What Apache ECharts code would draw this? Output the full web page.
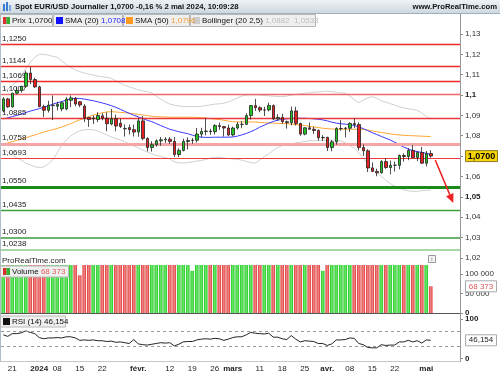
<!DOCTYPE html>
<html><head><meta charset="utf-8">
<script src="https://cdn.jsdelivr.net/npm/echarts@6/dist/echarts.min.js"></script>
<style>html,body{margin:0;padding:0;background:#fff}#c{width:500px;height:375px}</style>
</head><body><div id="c"></div>
<script>
// ---------- DATA ----------
const holidays = ['2023-12-25','2024-01-01'];
const dates = (function(){const out=[];let t=Date.UTC(2023,11,19);const end=Date.UTC(2024,4,2);
  while(t<=end){const d=new Date(t);const wd=d.getUTCDay();const s=d.toISOString().slice(0,10);
    if(wd>0&&wd<6&&holidays.indexOf(s)<0)out.push(s);t+=86400000;}return out;})();
const tickLabels = {'2023-12-21':'21','2024-01-02':'2024','2024-01-08':'08','2024-01-15':'15','2024-01-22':'22',
  '2024-02-01':'févr.','2024-02-12':'12','2024-02-19':'19','2024-02-26':'26','2024-03-01':'mars',
  '2024-03-11':'11','2024-03-18':'18','2024-03-25':'25','2024-04-01':'avr.','2024-04-08':'08',
  '2024-04-15':'15','2024-04-22':'22','2024-05-01':'mai'};
const boldTicks = ['2024','févr.','mars','avr.','mai'];

const open  = [1.0923,1.0981,1.0942,1.1009,1.1022,1.1043,1.1108,1.1076,1.1040,1.0943,1.0925,1.0948,1.0945,1.0932,1.0932,1.0974,1.0984,1.0967,1.0946,1.0890,1.0883,1.0880,1.0898,1.0886,1.0858,1.0884,1.0862,1.0836,1.0840,1.0830,1.0818,1.0873,1.0787,1.0742,1.0756,1.0775,1.0780,1.0783,1.0772,1.0708,1.0728,1.0772,1.0777,1.0778,1.0808,1.0821,1.0823,1.0820,1.0850,1.0845,1.0838,1.0804,1.0838,1.0856,1.0856,1.0899,1.0948,1.0938,1.0926,1.0927,1.0948,1.0883,1.0890,1.0869,1.0864,1.0922,1.0860,1.0808,1.0839,1.0832,1.0826,1.0790,1.0792,1.0742,1.0770,1.0835,1.0836,1.0837,1.0860,1.0855,1.0742,1.0726,1.0642,1.0625,1.0618,1.0673,1.0644,1.0655,1.0655,1.0703,1.0698,1.0728,1.0693,1.0718,1.0665,1.0713];
const high  = [1.0990,1.0986,1.1011,1.1040,1.1045,1.1120,1.1139,1.1085,1.1046,1.0953,1.0972,1.0998,1.0967,1.0968,1.0990,1.0998,1.0990,1.0970,1.0955,1.0892,1.0900,1.0916,1.0911,1.0915,1.0932,1.0904,1.0884,1.0856,1.0855,1.0855,1.0889,1.0897,1.0792,1.0773,1.0782,1.0794,1.0793,1.0793,1.0794,1.0738,1.0786,1.0792,1.0789,1.0838,1.0839,1.0888,1.0834,1.0857,1.0865,1.0848,1.0855,1.0845,1.0868,1.0872,1.0911,1.0951,1.0981,1.0945,1.0942,1.0963,1.0954,1.0906,1.0908,1.0875,1.0943,1.0942,1.0865,1.0842,1.0865,1.0845,1.0831,1.0803,1.0795,1.0779,1.0842,1.0877,1.0843,1.0867,1.0885,1.0866,1.0757,1.0734,1.0669,1.0638,1.0680,1.0690,1.0678,1.0673,1.0708,1.0714,1.0739,1.0754,1.0724,1.0745,1.0725,1.0729];
const low   = [1.0915,1.0937,1.0938,1.1003,1.1012,1.1035,1.1054,1.1035,1.0940,1.0892,1.0914,1.0877,1.0924,1.0920,1.0925,1.0940,1.0945,1.0940,1.0867,1.0844,1.0858,1.0867,1.0876,1.0822,1.0851,1.0822,1.0838,1.0796,1.0806,1.0796,1.0795,1.0778,1.0723,1.0722,1.0747,1.0751,1.0765,1.0760,1.0696,1.0695,1.0723,1.0733,1.0761,1.0767,1.0792,1.0802,1.0805,1.0806,1.0829,1.0796,1.0798,1.0797,1.0830,1.0837,1.0852,1.0880,1.0922,1.0915,1.0897,1.0920,1.0877,1.0873,1.0859,1.0835,1.0851,1.0850,1.0800,1.0802,1.0833,1.0809,1.0776,1.0774,1.0725,1.0724,1.0756,1.0825,1.0792,1.0819,1.0838,1.0728,1.0701,1.0622,1.0622,1.0601,1.0614,1.0637,1.0610,1.0624,1.0635,1.0673,1.0680,1.0690,1.0675,1.0666,1.0649,1.0692];
const close = [1.0981,1.0942,1.1009,1.1022,1.1043,1.1108,1.1076,1.1040,1.0943,1.0925,1.0950,1.0950,1.0955,1.0962,1.0980,1.0986,1.0956,1.0951,1.0886,1.0880,1.0887,1.0899,1.0886,1.0859,1.0883,1.0848,1.0845,1.0834,1.0830,1.0818,1.0873,1.0787,1.0742,1.0756,1.0775,1.0780,1.0783,1.0772,1.0708,1.0728,1.0772,1.0777,1.0778,1.0808,1.0821,1.0823,1.0820,1.0850,1.0845,1.0838,1.0804,1.0838,1.0856,1.0856,1.0899,1.0948,1.0938,1.0926,1.0927,1.0948,1.0883,1.0890,1.0869,1.0864,1.0922,1.0860,1.0808,1.0839,1.0832,1.0826,1.0790,1.0792,1.0742,1.0770,1.0835,1.0836,1.0837,1.0860,1.0855,1.0742,1.0726,1.0642,1.0625,1.0618,1.0673,1.0644,1.0655,1.0655,1.0703,1.0698,1.0728,1.0693,1.0718,1.0665,1.0713,1.0700];
const sma20 = [1.0883,1.0888,1.0894,1.0900,1.0906,1.0914,1.0921,1.0927,1.0933,1.0940,1.0947,1.0955,1.0962,1.0968,1.0975,1.0980,1.0984,1.0983,1.0980,1.0976,1.0972,1.0967,1.0961,1.0955,1.0948,1.0940,1.0930,1.0920,1.0910,1.0901,1.0893,1.0884,1.0876,1.0869,1.0860,1.0850,1.0841,1.0832,1.0826,1.0820,1.0815,1.0810,1.0803,1.0797,1.0793,1.0792,1.0792,1.0793,1.0793,1.0793,1.0793,1.0794,1.0798,1.0804,1.0811,1.0820,1.0830,1.0842,1.0852,1.0862,1.0870,1.0877,1.0880,1.0883,1.0885,1.0886,1.0886,1.0886,1.0885,1.0883,1.0881,1.0878,1.0873,1.0867,1.0862,1.0859,1.0857,1.0855,1.0850,1.0843,1.0835,1.0825,1.0815,1.0806,1.0797,1.0788,1.0779,1.0768,1.0757,1.0744,1.0735,1.0727,1.0722,1.0718,1.0714,1.0708];
const sma50 = [1.0760,1.0765,1.0771,1.0777,1.0783,1.0790,1.0797,1.0804,1.0811,1.0818,1.0824,1.0830,1.0836,1.0843,1.0851,1.0860,1.0869,1.0878,1.0886,1.0894,1.0901,1.0907,1.0913,1.0917,1.0918,1.0917,1.0915,1.0913,1.0911,1.0908,1.0905,1.0902,1.0899,1.0896,1.0894,1.0893,1.0892,1.0891,1.0891,1.0891,1.0891,1.0891,1.0891,1.0890,1.0889,1.0887,1.0884,1.0882,1.0880,1.0876,1.0872,1.0869,1.0868,1.0868,1.0868,1.0868,1.0867,1.0866,1.0864,1.0863,1.0862,1.0861,1.0860,1.0859,1.0857,1.0855,1.0853,1.0850,1.0847,1.0843,1.0840,1.0837,1.0835,1.0833,1.0832,1.0832,1.0832,1.0832,1.0832,1.0832,1.0831,1.0828,1.0824,1.0820,1.0816,1.0813,1.0809,1.0806,1.0804,1.0802,1.0801,1.0800,1.0799,1.0798,1.0797,1.0796];
const bbUpper = [1.1020,1.1030,1.1045,1.1070,1.1095,1.1130,1.1160,1.1185,1.1200,1.1200,1.1196,1.1190,1.1185,1.1168,1.1150,1.1135,1.1123,1.1115,1.1108,1.1103,1.1098,1.1093,1.1090,1.1087,1.1082,1.1070,1.1058,1.1048,1.1040,1.1033,1.1025,1.1020,1.1017,1.1010,1.0995,1.0980,1.0966,1.0956,1.0950,1.0946,1.0944,1.0943,1.0943,1.0943,1.0945,1.0948,1.0952,1.0955,1.0957,1.0960,1.0966,1.0975,1.0985,1.0995,1.1000,1.1001,1.1001,1.1000,1.0998,1.0996,1.0994,1.0993,1.0992,1.0995,1.0999,1.1003,1.1006,1.1009,1.1011,1.1013,1.1015,1.1017,1.1019,1.1017,1.1013,1.1010,1.1009,1.0995,1.0978,1.0962,1.0975,1.0986,1.0992,1.0985,1.0972,1.0965,1.0958,1.0950,1.0942,1.0937,1.0933,1.0929,1.0925,1.0912,1.0895,1.0882];
const bbLower = [1.0740,1.0720,1.0706,1.0691,1.0681,1.0666,1.0657,1.0648,1.0644,1.0647,1.0662,1.0681,1.0716,1.0755,1.0779,1.0799,1.0814,1.0824,1.0829,1.0831,1.0829,1.0824,1.0814,1.0804,1.0794,1.0787,1.0779,1.0770,1.0760,1.0750,1.0740,1.0730,1.0720,1.0711,1.0703,1.0698,1.0693,1.0686,1.0672,1.0667,1.0666,1.0668,1.0672,1.0676,1.0678,1.0684,1.0690,1.0694,1.0694,1.0691,1.0688,1.0686,1.0684,1.0680,1.0674,1.0668,1.0666,1.0680,1.0698,1.0711,1.0728,1.0742,1.0752,1.0755,1.0760,1.0765,1.0768,1.0772,1.0775,1.0776,1.0777,1.0778,1.0778,1.0779,1.0779,1.0775,1.0765,1.0752,1.0740,1.0715,1.0690,1.0660,1.0635,1.0620,1.0600,1.0582,1.0565,1.0552,1.0542,1.0535,1.0530,1.0527,1.0527,1.0530,1.0532,1.0533];
const volume = [130000,130000,130000,130000,130000,130000,130000,130000,130000,130000,130000,130000,130000,130000,130000,130000,130000,97000,130000,130000,130000,130000,130000,130000,130000,130000,130000,130000,130000,130000,130000,130000,130000,130000,130000,130000,130000,130000,130000,130000,130000,130000,108000,130000,130000,130000,130000,130000,130000,130000,130000,130000,130000,130000,130000,130000,130000,130000,130000,130000,130000,130000,130000,130000,130000,130000,130000,130000,130000,130000,130000,108000,130000,130000,130000,130000,130000,130000,130000,130000,130000,130000,130000,130000,130000,130000,130000,130000,130000,130000,130000,130000,130000,130000,130000,68373];
const rsi = [60,56,63,63,65,70,66,63,53,50,52,52,53,52,55,55,52,46,47,46,47,45,45,43,44,41,42,40,38,48,37,35,34,36,38,40,39,40,32,36,42,43,43,47,49,50,49,51,50,46,49,53,55,55,60,66,64,63,62,64,54,54,50,48,58,49,42,45,44,43,38,38,33,37,47,47,48,52,51,38,35,28,27,27,35,33,34,34,42,42,46,42,45,39,47,46.154];
const resistLevels = [1.1250,1.1144,1.1069,1.1007,1.0885,1.0758,1.0693];
const supportLevels = [1.0550,1.0435,1.0300,1.0238];
const rsiBands = [70,30];
const lastPrice = 1.0700, lastVolume = 68373, lastRsi = 46.154;
const arrowFrom = {idx: 96, price: 1.0681}, arrowTo = {idx: 100, price: 1.0470};

// ---------- STYLES ----------
const FONT = 'Liberation Sans, Arial, sans-serif';
const resistStyles = [
  {c:'#ee2a2a',w:1.5},{c:'#ee2a2a',w:1.5},{c:'#ee2a2a',w:1.5},{c:'#f06a6a',w:1.5},
  {c:'#e83a3a',w:1.5},{c:'#f5a5a5',w:3},{c:'#ee3a3a',w:1.2}];
const supportStyles = [{c:'#1a8a1a',w:3},{c:'#3a9e3a',w:1.5},{c:'#6cb36c',w:2},{c:'#a6d8a6',w:2}];

const fmtP = v => v.toFixed(4).replace('.', ',');
const PAD = 6;
const cats = dates.concat(Array.from({length:PAD},(_,i)=>'pad'+i));

const candle = dates.map((d,i)=>[open[i],close[i],low[i],high[i]]);
const volData = dates.map((d,i)=>{
  const up = close[i] >= open[i];
  return {value: volume[i], itemStyle:{color: new echarts.graphic.LinearGradient(0,0,1,0,
    up ? [{offset:0,color:'#22c422'},{offset:0.5,color:'#6cea6c'},{offset:1,color:'#22c422'}]
       : [{offset:0,color:'#e03636'},{offset:0.5,color:'#f08a8a'},{offset:1,color:'#e03636'}])}};
});

const chart = echarts.init(document.getElementById('c'), null, {renderer:'canvas'});
const gLeft = 1, gWidth = 459;
const option = {
  animation:false,
  textStyle:{fontFamily:FONT},
  grid:[
    {left:gLeft, width:gWidth, top:13.6, height:244.3},
    {left:gLeft, width:gWidth, top:265, height:48},
    {left:gLeft, width:gWidth, top:319, height:39.5}
  ],
  xAxis:[
    {type:'category', gridIndex:0, data:cats, show:false, boundaryGap:true},
    {type:'category', gridIndex:1, data:cats, boundaryGap:true, axisLine:{show:true,lineStyle:{color:'#555'}}, axisTick:{show:false}, axisLabel:{show:false}},
    {type:'category', gridIndex:2, data:cats, boundaryGap:true, axisLine:{show:false}, axisTick:{show:false},
      axisLabel:{interval:(i,v)=>!!tickLabels[v], margin:6, fontSize:8, color:'#222', fontFamily:FONT,
        formatter:v=>{const t=tickLabels[v]||'';return boldTicks.indexOf(t)>=0?'{b|'+t+'}':t;},
        rich:{b:{fontWeight:'bold',fontSize:8,color:'#222',fontFamily:FONT}}}}
  ],
  yAxis:[
    {type:'value', gridIndex:0, position:'right', min:1.02, max:1.14, interval:0.01,
      splitLine:{show:false}, axisLine:{show:true,lineStyle:{color:'#9a9a9a'}}, axisTick:{show:true,length:3,lineStyle:{color:'#888'}},
      axisLabel:{margin:5, fontSize:8, color:'#333', fontFamily:FONT, showMaxLabel:false,
        formatter:v=>{const s=String(+v.toFixed(2)).replace('.',',');return (Math.abs(v-1.1)<1e-6||Math.abs(v-1.05)<1e-6)?'{b|'+s+'}':s;},
        rich:{b:{fontWeight:'bold',fontSize:8,color:'#222',fontFamily:FONT}}}},
    {type:'value', gridIndex:1, position:'right', min:0, max:123000, interval:50000,
      splitLine:{show:false}, axisLine:{show:true,lineStyle:{color:'#9a9a9a'}}, axisTick:{show:true,length:3,lineStyle:{color:'#888'}},
      axisLabel:{margin:5, fontSize:8, color:'#333', fontFamily:FONT, showMaxLabel:false,
        formatter:v=>v===0?'{b|0}':String(v).replace(/\B(?=(\d{3})+(?!\d))/g,' '),
        rich:{b:{fontWeight:'bold',fontSize:8,color:'#222',fontFamily:FONT}}}},
    {type:'value', gridIndex:2, position:'right', min:0, max:100, interval:100,
      splitLine:{show:false}, axisLine:{show:true,lineStyle:{color:'#9a9a9a'}}, axisTick:{show:true,length:3,lineStyle:{color:'#888'}},
      axisLabel:{margin:5, fontSize:8, color:'#222', fontWeight:'bold', fontFamily:FONT}}
  ],
  series:[
    {type:'line', name:'BBU', xAxisIndex:0, yAxisIndex:0, data:bbUpper, symbol:'none', lineStyle:{color:'#cfcfcf',width:1}, z:1},
    {type:'line', name:'BBL', xAxisIndex:0, yAxisIndex:0, data:bbLower, symbol:'none', lineStyle:{color:'#cfcfcf',width:1}, z:1},
    {type:'line', name:'SMA50', xAxisIndex:0, yAxisIndex:0, data:sma50, symbol:'none', lineStyle:{color:'#ffa733',width:1}, z:2},
    {type:'line', name:'SMA20', xAxisIndex:0, yAxisIndex:0, data:sma20, symbol:'none', lineStyle:{color:'#3a3aff',width:1}, z:2},
    {type:'candlestick', name:'Prix', xAxisIndex:0, yAxisIndex:0, data:candle, barWidth:3, z:5,
      itemStyle:{color:'#22c322', color0:'#e62020', borderColor:'#222', borderColor0:'#222', borderWidth:0.8}},
    {type:'bar', name:'Volume', xAxisIndex:1, yAxisIndex:1, data:volData, barWidth:3.6, clip:true},
    {type:'line', name:'RSI', xAxisIndex:2, yAxisIndex:2, data:rsi, symbol:'none', lineStyle:{color:'#222',width:1},
      markLine:{silent:true, symbol:['none','none'], label:{show:false},
        lineStyle:{color:'#999',type:[3,3],width:1}, data:rsiBands.map(v=>({yAxis:v}))}}
  ]
};
chart.setOption(option);

// ---------- annotations positioned through the axes ----------
const yP = chart.convertToPixel({yAxisIndex:0}, lastPrice);
const yV = chart.convertToPixel({yAxisIndex:1}, lastVolume);
const yR = chart.convertToPixel({yAxisIndex:2}, lastRsi);
const a0 = chart.convertToPixel({xAxisIndex:0, yAxisIndex:0}, [arrowFrom.idx, arrowFrom.price]);
const a1 = chart.convertToPixel({xAxisIndex:0, yAxisIndex:0}, [arrowTo.idx, arrowTo.price]);
const dx=a1[0]-a0[0], dy=a1[1]-a0[1], L=Math.hypot(dx,dy), ux=dx/L, uy=dy/L;
const hl=9, hw=4;
const base=[a1[0]-ux*hl, a1[1]-uy*hl];
const axisX = gLeft + gWidth;

function box(x,y,w,h,fill,stroke,lw){return {type:'rect',shape:{x,y,width:w,height:h},style:{fill,stroke,lineWidth:lw||1},z:100};}
function txt(x,y,t,opt){return Object.assign({type:'text',x,y,z:101,style:Object.assign({text:t,fontFamily:FONT,fontSize:8,fill:'#111',textVerticalAlign:'middle'},opt||{})});}

// horizontal levels, placed through the price axis
const levelGraphics = [];
function addLevel(v, st){
  const y = Math.round(chart.convertToPixel({yAxisIndex:0}, v)) + (st.w%2 ? 0.5 : 0);
  levelGraphics.push({type:'line', shape:{x1:gLeft, y1:y, x2:axisX, y2:y}, style:{stroke:st.c, lineWidth:st.w}, z:3});
  levelGraphics.push({type:'text', x:2, y:y - st.w/2 - 1, z:4, style:{text:fmtP(v), fontFamily:FONT, fontSize:8, fill:'#222', textVerticalAlign:'bottom'}});
}
resistLevels.forEach((v,i)=>addLevel(v, resistStyles[i]));
supportLevels.forEach((v,i)=>addLevel(v, supportStyles[i]));

const legendY = 14.5, legendH = 12;
const graphics = levelGraphics.concat([
  {type:'rect',shape:{x:0,y:0,width:500,height:13},style:{fill:new echarts.graphic.LinearGradient(0,0,0,1,[{offset:0,color:'#eef2f5'},{offset:1,color:'#cfd8e0'}])},z:90},
  {type:'line',shape:{x1:0,y1:13.5,x2:500,y2:13.5},style:{stroke:'#9fb0bf',lineWidth:1},z:91},
  box(3,4,2,7,'#3b7bd0','none',0), box(6,2,2,9,'#3b7bd0','none',0), box(9,5,2,6,'#7aa8e0','none',0),
  txt(15,7,'Spot EUR/USD Journalier 1,0700 -0,16 % 2 mai 2024, 10:09:28',{fontWeight:'bold',fontSize:7.7}),
  txt(497,7,'www.ProRealTime.com',{fontWeight:'bold',fontSize:7.7,textAlign:'right'}),
  box(0.5,legendY,52,legendH,'#efefef','#b8b8b8'),
  box(3,legendY+2.5,3.5,7,'#d83030','none',0), box(6.5,legendY+2.5,3.5,7,'#30b030','none',0),
  txt(12,legendY+6.5,'Prix 1,0700'),
  box(53.5,legendY,69,legendH,'#efefef','#b8b8b8'),
  box(56,legendY+2.5,7,7,'#1010ff','none',0),
  {type:'text',x:65,y:legendY+6.5,z:101,style:{text:'SMA (20) {b|1,0708}',fontFamily:FONT,fontSize:8,fill:'#111',textVerticalAlign:'middle',rich:{b:{fill:'#2a2aff',fontSize:8,fontFamily:FONT}}}},
  box(123.5,legendY,66,legendH,'#efefef','#b8b8b8'),
  box(126,legendY+2.5,7,7,'#ff9a20','none',0),
  {type:'text',x:135,y:legendY+6.5,z:101,style:{text:'SMA (50) {o|1,0796}',fontFamily:FONT,fontSize:8,fill:'#111',textVerticalAlign:'middle',rich:{o:{fill:'#f09a30',fontSize:8,fontFamily:FONT}}}},
  box(190.5,legendY,125,legendH,'#efefef','#b8b8b8'),
  box(193,legendY+2.5,7,7,'#cccccc','none',0),
  {type:'text',x:202,y:legendY+6.5,z:101,style:{text:'Bollinger (20 2,5) {g|1,0882  1,0533}',fontFamily:FONT,fontSize:8,fill:'#111',textVerticalAlign:'middle',rich:{g:{fill:'#bdbdbd',fontSize:8,fontFamily:FONT}}}},
  {type:'line',shape:{x1:0.5,y1:13,x2:0.5,y2:362},style:{stroke:'#b0bcc6',lineWidth:1},z:50},
  {type:'line',shape:{x1:0,y1:361.5,x2:axisX,y2:361.5},style:{stroke:'#c8c8c8',lineWidth:1},z:50},
  {type:'line',shape:{x1:axisX+0.5,y1:13,x2:axisX+0.5,y2:362},style:{stroke:'#9a9a9a',lineWidth:1},z:50},
  txt(2,261,'ProRealTime.com',{fontSize:8,fill:'#222'}),
  box(428.5,255.5,7,7,'#f4f4f4','#999'),
  txt(432,259,'i',{fontSize:6,fill:'#666',textAlign:'center'}),
  box(0.5,266,68,11,'#efefef','#b8b8b8'),
  box(3,268,3.5,7,'#d83030','none',0), box(6.5,268,3.5,7,'#30b030','none',0),
  {type:'text',x:12,y:271.5,z:101,style:{text:'Volume {r|68 373}',fontFamily:FONT,fontSize:8,fill:'#111',textVerticalAlign:'middle',rich:{r:{fill:'#e05a5a',fontSize:8,fontFamily:FONT}}}},
  box(0.5,316,65,11,'#efefef','#b8b8b8'),
  box(3,318,7,7,'#111','none',0),
  txt(12,321.5,'RSI (14) 46,154',{fontSize:8}),
  box(465.5,yP-5.5,32,11,'#f7d40a','#8a7a20'),
  txt(481.5,yP,'1,0700',{fontWeight:'bold',fontSize:9,textAlign:'center',fill:'#000'}),
  box(465.5,yV-5.5,31,11,'#ffffff','#aaaaaa'),
  txt(481,yV,'68 373',{fontSize:8,textAlign:'center',fill:'#e05a5a'}),
  box(465.5,yR-5.5,31,11,'#ffffff','#aaaaaa'),
  txt(481,yR,'46,154',{fontSize:8,textAlign:'center',fill:'#222'}),
  {type:'line',shape:{x1:a0[0],y1:a0[1],x2:base[0],y2:base[1]},style:{stroke:'#ee2020',lineWidth:1.5},z:60},
  {type:'polygon',shape:{points:[[a1[0],a1[1]],[base[0]-uy*hw,base[1]+ux*hw],[base[0]+uy*hw,base[1]-ux*hw]]},style:{fill:'#ee2020'},z:60}
]);
chart.setOption({graphic:graphics});
</script></body></html>
